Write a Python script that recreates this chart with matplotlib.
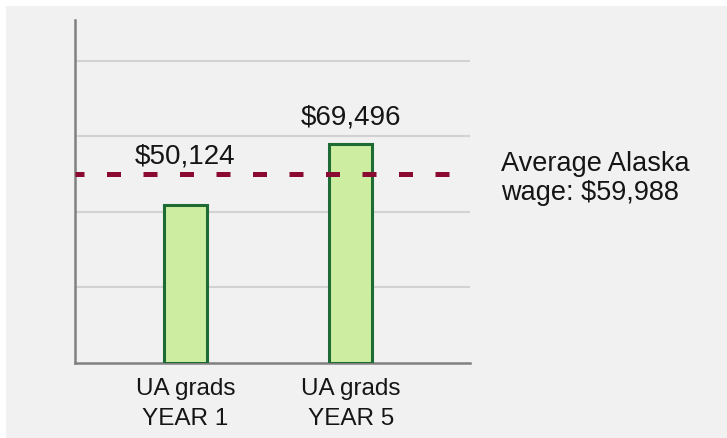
import matplotlib.pyplot as plt
import numpy as np
from matplotlib.patches import Rectangle

# --------- data --------- #
groups = ['UA grads', 'UA grads']
years = ['YEAR 1', 'YEAR 5']
wages = [50124, 69496]
avg_wage = 59988
label_offsets = [30, 14.5]  # points above the bar top

plt.rcParams['font.family'] = ['Liberation Sans', 'DejaVu Sans']

fig = plt.figure(figsize=(7.27, 4.38), dpi=100, facecolor='white')
# light grey panel, slight white border on the top/left
fig.add_artist(Rectangle((6 / 727, 0), 1, (438 - 6) / 438, transform=fig.transFigure,
                         facecolor='#f1f1f1', edgecolor='none', zorder=-10))

ax = fig.add_axes([75 / 727, 75 / 438, 395 / 727, 343 / 438])
ax.set_facecolor('none')

x = np.arange(len(wages))
ax.bar(x, wages, width=0.26, color='#cdeea0', edgecolor='#1e6b35', linewidth=2.2, zorder=3)

ax.set_xlim(-0.668, 1.72)
ax.set_ylim(0, 109000)
ax.set_yticks(np.arange(24000, 109000, 24000))
ax.yaxis.grid(True, color='#d2d2d2', linewidth=1.5)
ax.tick_params(axis='y', length=0, labelleft=False)

ax.set_xticks(x)
ax.set_xticklabels([f'{g}\n{y}' for g, y in zip(groups, years)], fontsize=17.5,
                   color='#151515', linespacing=1.45)
ax.tick_params(axis='x', length=0, pad=11)

for side in ['top', 'right']:
    ax.spines[side].set_visible(False)
for side in ['left', 'bottom']:
    ax.spines[side].set_color('#808080')
    ax.spines[side].set_linewidth(1.8)

# average wage reference line
ax.axhline(avg_wage, xmin=0, xmax=0.995, color='#8b0a32', linewidth=3.6,
           linestyle=(1, (2.8, 4.5)), zorder=4)

for xi, w, off in zip(x, wages, label_offsets):
    ax.annotate(f'${w:,}', xy=(xi, w), xytext=(0, off), textcoords='offset points',
                ha='center', va='baseline', fontsize=20, color='#151515')

ax.annotate(f'Average Alaska\nwage: ${avg_wage:,}', xy=(1, avg_wage),
            xycoords=('axes fraction', 'data'), xytext=(22, -3), textcoords='offset points',
            ha='left', va='center', fontsize=19.5, color='#151515', linespacing=1.15,
            annotation_clip=False)

fig.savefig('out.png', dpi=100, facecolor=fig.get_facecolor())
